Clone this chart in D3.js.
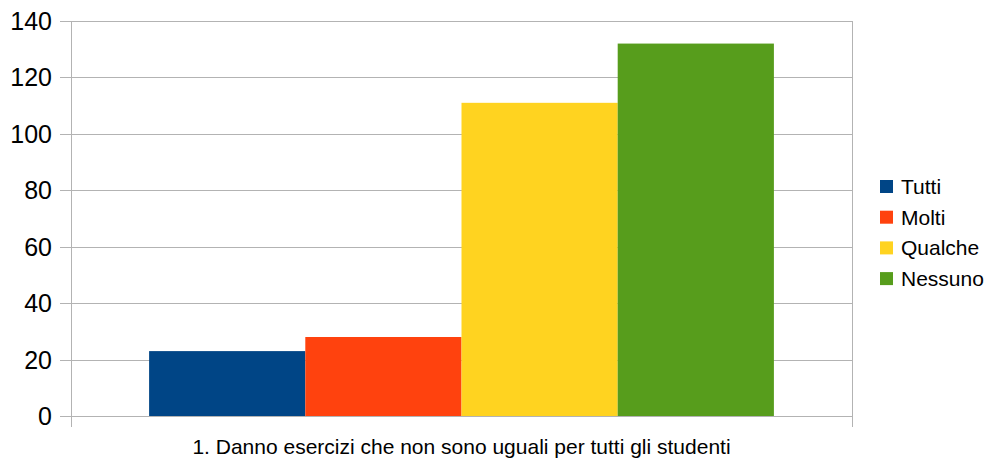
<!DOCTYPE html>
<html>
<head>
<meta charset="utf-8">
<script src="https://cdn.jsdelivr.net/npm/d3@7"></script>
<style>
  body { margin: 0; background: #fff; }
  svg { font-family: "Liberation Sans", Arial, sans-serif; }
</style>
</head>
<body>
<div class="chart"></div>
<script>
// data
var categories = ['1. Danno esercizi che non sono uguali per tutti gli studenti'];
var seriesNames = ['Tutti', 'Molti', 'Qualche', 'Nessuno'];
var seriesValues = [23, 28, 111, 132];
var seriesColors = ['#004586', '#ff420e', '#ffd320', '#579d1c'];
var yTicks = [0, 20, 40, 60, 80, 100, 120, 140];

var width = 987;
var height = 459;
var margin = { top: 21, right: 135, bottom: 43, left: 71 };
var plotW = width - margin.left - margin.right;
var plotH = height - margin.top - margin.bottom;

var svg = d3.select('.chart').append('svg')
  .attr('width', width)
  .attr('height', height);

var g = svg.append('g')
  .attr('transform', 'translate(' + margin.left + ',' + margin.top + ')');

var y = d3.scaleLinear().domain([0, 140]).range([plotH, 0]);

var x0 = d3.scaleBand().domain(categories).range([0, plotW]).paddingInner(0).paddingOuter(0.125);
var x1 = d3.scaleBand().domain(seriesNames).range([0, x0.bandwidth()]).padding(0);

// gridlines
g.selectAll('.grid')
  .data(yTicks)
  .enter().append('line')
  .attr('class', 'grid')
  .attr('x1', -11)
  .attr('x2', plotW)
  .attr('y1', function (d) { return Math.round(y(d)) + 0.5; })
  .attr('y2', function (d) { return Math.round(y(d)) + 0.5; })
  .attr('stroke', '#b3b3b3')
  .attr('stroke-width', 1);

// bars
g.selectAll('.bar')
  .data(seriesValues)
  .enter().append('rect')
  .attr('class', 'bar')
  .attr('x', function (d, i) { return x0(categories[0]) + x1(seriesNames[i]); })
  .attr('width', x1.bandwidth())
  .attr('y', function (d) { return y(d); })
  .attr('height', function (d) { return plotH - y(d); })
  .attr('fill', function (d, i) { return seriesColors[i]; });

// axis lines (left and right, reaching below the baseline)
g.append('line')
  .attr('x1', 0.5).attr('x2', 0.5)
  .attr('y1', 0).attr('y2', plotH + 11)
  .attr('stroke', '#b3b3b3');
g.append('line')
  .attr('x1', plotW + 0.5).attr('x2', plotW + 0.5)
  .attr('y1', 0).attr('y2', plotH + 11)
  .attr('stroke', '#b3b3b3');

// y labels
g.selectAll('.ylab')
  .data(yTicks)
  .enter().append('text')
  .attr('class', 'ylab')
  .attr('x', -19)
  .attr('y', function (d) { return y(d); })
  .attr('dy', '0.36em')
  .attr('text-anchor', 'end')
  .attr('font-size', 25)
  .attr('fill', '#000')
  .text(function (d) { return d; });

// category label
g.append('text')
  .attr('x', x0(categories[0]) + x0.bandwidth() / 2)
  .attr('y', plotH + 38)
  .attr('text-anchor', 'middle')
  .attr('font-size', 21)
  .attr('fill', '#000')
  .text(categories[0]);

// legend
var legend = svg.append('g')
  .attr('transform', 'translate(880,' + 180 + ')');

var rows = legend.selectAll('.legend-row')
  .data(seriesNames)
  .enter().append('g')
  .attr('class', 'legend-row')
  .attr('transform', function (d, i) { return 'translate(0,' + i * 30.7 + ')'; });

rows.append('rect')
  .attr('width', 13)
  .attr('height', 13)
  .attr('y', 0)
  .attr('fill', function (d, i) { return seriesColors[i]; });

rows.append('text')
  .attr('x', 21)
  .attr('y', 6.5)
  .attr('dy', '0.36em')
  .attr('font-size', 21)
  .attr('fill', '#000')
  .text(function (d) { return d; });
</script>
</body>
</html>
